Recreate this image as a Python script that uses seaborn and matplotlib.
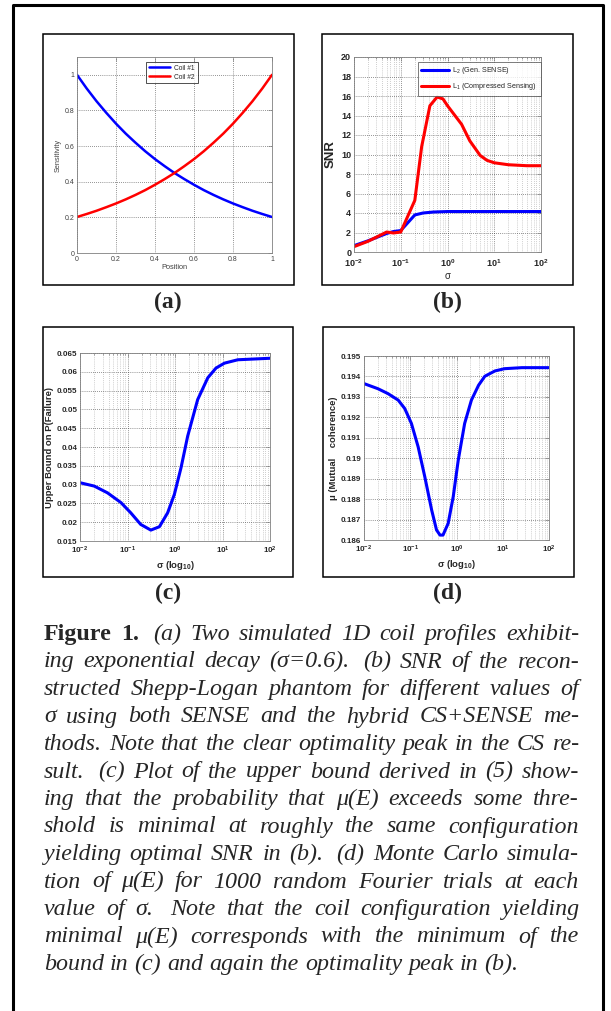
import numpy as np
import matplotlib
matplotlib.use("Agg")
import matplotlib.pyplot as plt
import seaborn as sns
from matplotlib.patches import Rectangle
from matplotlib.lines import Line2D
from matplotlib.ticker import LogLocator, NullFormatter

# === data ===
position = [0.0, 0.05, 0.1, 0.15, 0.2, 0.25, 0.3, 0.35, 0.4, 0.45, 0.5,
            0.55, 0.6, 0.65, 0.7, 0.75, 0.8, 0.85, 0.9, 0.95, 1.0]
coil1 = [1.0, 0.923, 0.852, 0.787, 0.726, 0.670, 0.619, 0.571, 0.527, 0.487, 0.449,
         0.415, 0.383, 0.353, 0.326, 0.301, 0.278, 0.257, 0.237, 0.219, 0.202]
coil2 = [0.202, 0.219, 0.237, 0.257, 0.278, 0.301, 0.326, 0.353, 0.383, 0.415, 0.449,
         0.487, 0.527, 0.571, 0.619, 0.670, 0.726, 0.787, 0.852, 0.923, 1.0]

sigma_l2 = [0.01, 0.02, 0.05, 0.07, 0.1, 0.2, 0.3, 0.5, 1.0, 10.0, 100.0]
snr_l2 = [0.65, 1.15, 1.9, 2.1, 2.2, 3.8, 4.0, 4.1, 4.15, 4.15, 4.15]
sigma_l1 = [0.01, 0.02, 0.05, 0.07, 0.1, 0.2, 0.28, 0.42, 0.6, 0.8, 1.0,
            2.0, 3.0, 5.0, 7.0, 10.0, 20.0, 50.0, 100.0]
snr_l1 = [0.55, 1.1, 2.05, 1.95, 2.05, 5.3, 10.8, 15.0, 15.9, 15.7, 15.0,
          13.1, 11.4, 9.9, 9.4, 9.15, 8.95, 8.85, 8.85]

sigma_bound = [0.01, 0.02, 0.038, 0.073, 0.117, 0.19, 0.31, 0.47, 0.70, 0.97,
               1.34, 1.85, 3.0, 4.9, 7.3, 11.0, 21.0, 100.0]
p_fail = [0.0305, 0.0296, 0.0278, 0.0252, 0.0225, 0.0194, 0.0179, 0.0188, 0.0225, 0.0274,
          0.0345, 0.0429, 0.0526, 0.0584, 0.0610, 0.0623, 0.0632, 0.0636]

sigma_mu = [0.01, 0.02, 0.033, 0.055, 0.076, 0.106, 0.148, 0.206, 0.29, 0.37, 0.44,
            0.51, 0.66, 0.85, 1.09, 1.5, 2.1, 3.0, 4.1, 6.8, 11.0, 26.0, 100.0]
mu_coh = [0.19365, 0.1934, 0.19316, 0.19284, 0.19243, 0.1917, 0.19056, 0.1891, 0.18747,
          0.18649, 0.18624, 0.18624, 0.18681, 0.18812, 0.1899, 0.1917, 0.19284, 0.19357,
          0.19401, 0.19427, 0.19438, 0.19443, 0.19443]

lin_ticks = [0, 0.2, 0.4, 0.6, 0.8, 1]
lin_labels = ["0", "0.2", "0.4", "0.6", "0.8", "1"]
log_ticks = [1e-2, 1e-1, 1e0, 1e1, 1e2]
log_labels = [r"$\mathbf{10^{-2}}$", r"$\mathbf{10^{-1}}$", r"$\mathbf{10^{0}}$",
              r"$\mathbf{10^{1}}$", r"$\mathbf{10^{2}}$"]
snr_ticks = [0, 2, 4, 6, 8, 10, 12, 14, 16, 18, 20]
bound_ticks = [0.015, 0.02, 0.025, 0.03, 0.035, 0.04, 0.045, 0.05, 0.055, 0.06, 0.065]
mu_ticks = [0.186, 0.187, 0.188, 0.189, 0.19, 0.191, 0.192, 0.193, 0.194, 0.195]

caption_lines = [
    "Figure 1.  (a) Two simulated 1D coil profiles exhibit-",
    "ing exponential decay (σ=0.6).  (b) SNR of the recon-",
    "structed Shepp-Logan phantom for different values of",
    "σ using both SENSE and the hybrid CS+SENSE me-",
    "thods. Note that the clear optimality peak in the CS re-",
    "sult.  (c) Plot of the upper bound derived in (5) show-",
    "ing that the probability that μ(E) exceeds some thre-",
    "shold is minimal at roughly the same configuration",
    "yielding optimal SNR in (b).  (d) Monte Carlo simula-",
    "tion of μ(E) for 1000 random Fourier trials at each",
    "value of σ.  Note that the coil configuration yielding",
    "minimal μ(E) corresponds with the minimum of the",
    "bound in (c) and again the optimality peak in (b).",
]

# === style ===
sns.set_style("white")
plt.rcParams["font.family"] = ["Liberation Sans", "DejaVu Sans"]
plt.rcParams["mathtext.fontset"] = "custom"
plt.rcParams["mathtext.rm"] = "Liberation Sans"
plt.rcParams["mathtext.bf"] = "Liberation Sans:bold"
plt.rcParams["mathtext.it"] = "Liberation Sans:italic"

W, H = 611, 1011
fig = plt.figure(figsize=(W / 100, H / 100), dpi=100)
fig.patch.set_facecolor("white")

def px_axes(x0, y0, x1, y1):
    return fig.add_axes([x0 / W, 1 - y1 / H, (x1 - x0) / W, (y1 - y0) / H])

def px_box(x0, y0, x1, y1, lw=1.1):
    fig.add_artist(Rectangle((x0 / W, 1 - y1 / H), (x1 - x0) / W, (y1 - y0) / H,
                             transform=fig.transFigure, fill=False, ec="black", lw=lw))

def matlab_axes(ax, fs, bold, xpad=2):
    for s in ax.spines.values():
        s.set_color("#808080")
        s.set_linewidth(0.6)
    ax.tick_params(which="both", direction="in", color="#808080", width=0.5,
                   labelsize=fs, pad=2, top=True, right=True)
    ax.tick_params(axis="x", pad=xpad)
    ax.tick_params(which="major", length=3)
    ax.tick_params(which="minor", length=1.5)
    for lab in ax.get_xticklabels() + ax.get_yticklabels():
        lab.set_fontweight("bold" if bold else "normal")

grid_major = dict(color="#303030", lw=0.5, ls=(0, (1, 2)))
grid_minor = dict(color="#a0a0a0", lw=0.5, ls=(0, (1, 2)))

# outer frame (open at bottom)
fig.add_artist(Line2D([13 / W, 13 / W, 603 / W, 603 / W], [0, 1 - 5 / H, 1 - 5 / H, 0],
                      transform=fig.transFigure, color="black", lw=2.2))

# panel boxes
px_box(43, 34, 294, 285)
px_box(322, 34, 573, 285)
px_box(43, 327, 293, 577)
px_box(323, 327, 574, 577)

# === (a) coil profiles ===
ax = px_axes(77, 57, 272, 253)
sns.lineplot(x=position, y=coil1, ax=ax, color="blue", lw=1.8, label="Coil #1")
sns.lineplot(x=position, y=coil2, ax=ax, color="red", lw=1.8, label="Coil #2")
ax.set_xlim(0, 1)
ax.set_ylim(0, 1.1)
ax.set_xticks(lin_ticks, lin_labels)
ax.set_yticks(lin_ticks, lin_labels)
ax.grid(True, **grid_major)
matlab_axes(ax, 5, False)
ax.tick_params(labelcolor="#404040")
ax.set_xlabel("Position", fontsize=5.3, color="#404040", labelpad=1)
ax.set_ylabel("Sensitivity", fontsize=5.3, color="#404040", labelpad=2)
leg = ax.legend(loc="upper left", bbox_to_anchor=(0.356, 0.975), fontsize=4.8,
                frameon=True, fancybox=False, edgecolor="black", handlelength=3.2,
                borderpad=0.4, labelspacing=0.3, handletextpad=0.6, borderaxespad=0)
leg.get_frame().set_linewidth(0.6)

# === (b) SNR ===
ax = px_axes(354, 57, 541, 252)
sns.lineplot(x=sigma_l2, y=snr_l2, ax=ax, color="blue", lw=2.2, label=r"L$_2$ (Gen. SENSE)")
sns.lineplot(x=sigma_l1, y=snr_l1, ax=ax, color="red", lw=2.2,
             label=r"L$_1$ (Compressed Sensing)")
ax.set_xscale("log")
ax.set_xlim(1e-2, 1e2)
ax.set_ylim(0, 20)
ax.set_xticks(log_ticks, log_labels)
ax.xaxis.set_minor_locator(LogLocator(base=10, subs=np.arange(2, 10)))
ax.xaxis.set_minor_formatter(NullFormatter())
ax.set_yticks(snr_ticks, [str(v) for v in snr_ticks])
ax.grid(True, which="major", **grid_major)
ax.grid(True, which="minor", axis="x", **grid_minor)
matlab_axes(ax, 6.5, True, xpad=4)
ax.set_xlabel("σ", fontsize=7, labelpad=1)
ax.set_ylabel("SNR", fontsize=9.5, fontweight="bold", labelpad=3)
leg = ax.legend(loc="upper left", bbox_to_anchor=(0.34, 0.976), fontsize=5.2,
                frameon=True, fancybox=False, edgecolor="#404040", handlelength=3.8,
                borderpad=0.5, labelspacing=0.7, handletextpad=0.5, borderaxespad=0)
leg.get_frame().set_linewidth(0.6)

# === (c) upper bound ===
ax = px_axes(80, 353, 270, 541)
sns.lineplot(x=sigma_bound, y=p_fail, ax=ax, color="blue", lw=2.2)
ax.set_xscale("log")
ax.set_xlim(1e-2, 1e2)
ax.set_ylim(0.015, 0.065)
ax.set_xticks(log_ticks, log_labels)
ax.xaxis.set_minor_locator(LogLocator(base=10, subs=np.arange(2, 10)))
ax.xaxis.set_minor_formatter(NullFormatter())
ax.set_yticks(bound_ticks, [f"{v:g}" for v in bound_ticks])
ax.grid(True, which="major", **grid_major)
ax.grid(True, which="minor", axis="x", **grid_minor)
matlab_axes(ax, 5.8, True, xpad=3)
ax.set_xlabel(r"σ (log$_{\mathbf{10}}$)", fontsize=6.8, fontweight="bold", labelpad=2)
ax.set_ylabel("Upper Bound on P(Failure)", fontsize=6.8, fontweight="bold", labelpad=2)

# === (d) mutual coherence ===
ax = px_axes(364, 356, 549, 540)
sns.lineplot(x=sigma_mu, y=mu_coh, ax=ax, color="blue", lw=2.2)
ax.set_xscale("log")
ax.set_xlim(1e-2, 1e2)
ax.set_ylim(0.186, 0.195)
ax.set_xticks(log_ticks, log_labels)
ax.xaxis.set_minor_locator(LogLocator(base=10, subs=np.arange(2, 10)))
ax.xaxis.set_minor_formatter(NullFormatter())
ax.set_yticks(mu_ticks, [f"{v:g}" for v in mu_ticks])
ax.grid(True, which="major", **grid_major)
ax.grid(True, which="minor", axis="x", **grid_minor)
matlab_axes(ax, 5.8, True, xpad=3)
ax.set_xlabel(r"σ (log$_{\mathbf{10}}$)", fontsize=6.8, fontweight="bold", labelpad=2)
ax.set_ylabel("μ (Mutual    coherence)", fontsize=6.8, fontweight="bold", labelpad=2)

# === panel letters ===
serif = ["Liberation Serif", "DejaVu Serif"]
for lab, x, y in [("(a)", 168, 302), ("(b)", 447, 302), ("(c)", 168, 593), ("(d)", 448, 593)]:
    fig.text(x / W, 1 - y / H, lab, family=serif, fontsize=17, fontweight="bold",
             ha="center", va="center")

# === justified caption ===
renderer = fig.canvas.get_renderer()
cap_fs = 17.3
X_LEFT, X_RIGHT = 44, 579

def text_width(s, **kw):
    t = fig.text(0, 0, s, family=serif, fontsize=cap_fs, **kw)
    w = t.get_window_extent(renderer).width
    t.remove()
    return w

space_w = text_width("a a", style="italic") - text_width("aa", style="italic")
for i, line in enumerate(caption_lines):
    words = line.split()
    styles = []
    for j, w in enumerate(words):
        if i == 0 and j < 2:
            styles.append(dict(fontweight="bold"))
        else:
            styles.append(dict(style="italic"))
    widths = [text_width(w, **s) for w, s in zip(words, styles)]
    weights = [1.6 if w.endswith(".") and w not in ("thods.",) else 1.0 for w in words[:-1]]
    if i < len(caption_lines) - 1:
        unit = (X_RIGHT - X_LEFT - sum(widths)) / sum(weights)
    else:
        unit = space_w
    x = X_LEFT
    y = 640 + 27.5 * i
    for k, (w, s, wd) in enumerate(zip(words, styles, widths)):
        fig.text(x / W, 1 - y / H, w, family=serif, fontsize=cap_fs, va="baseline", **s)
        if k < len(weights):
            x += wd + unit * weights[k]

fig.savefig("out.png", dpi=100, facecolor="white")
